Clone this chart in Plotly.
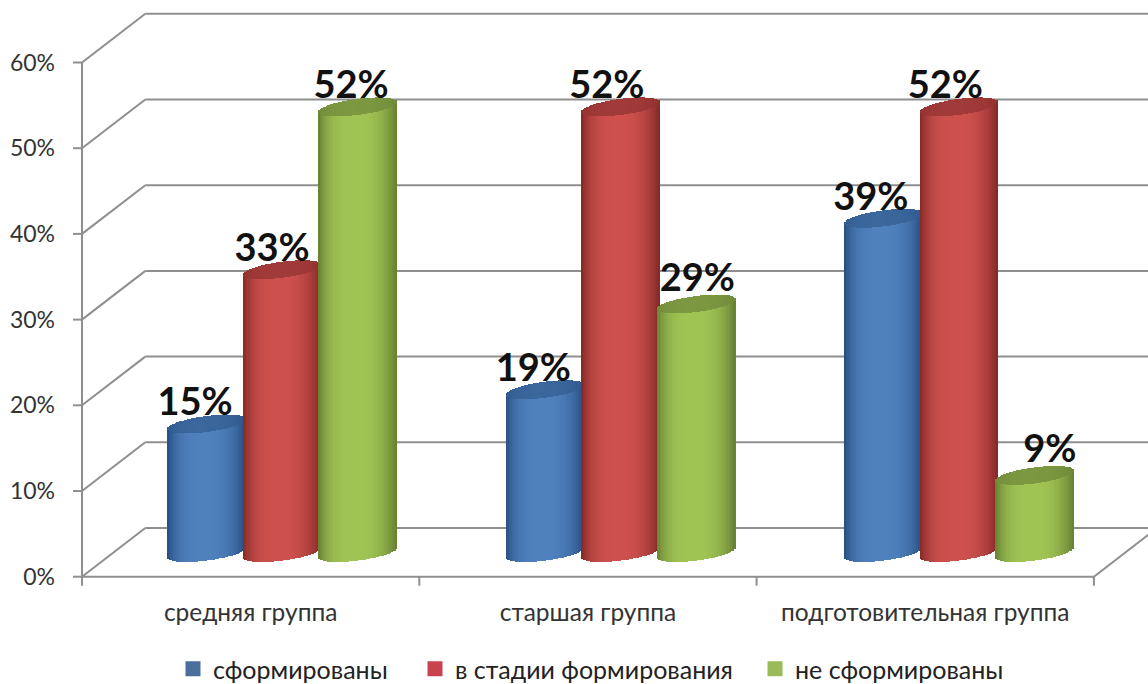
import numpy as np
import plotly.graph_objects as go

categories = ["средняя группа", "старшая группа", "подготовительная группа"]
series_names = ["сформированы", "в стадии формирования", "не сформированы"]
formed = [15, 19, 39]
forming = [33, 52, 52]
not_formed = [52, 29, 9]
y_ticks = [0, 10, 20, 30, 40, 50, 60]

# styles
mid_colors = [(79, 129, 189), (205, 80, 77), (160, 196, 84)]
edge_colors = [(38, 78, 128), (130, 40, 38), (102, 128, 50)]
cap_colors = [(60, 104, 158), (163, 60, 58), (125, 153, 65)]
legend_colors = ["#4a6f9c", "#c9434f", "#9bbb59"]
legend_left = [173, 415, 755]
label_dx = [[-12, -12, -13], [-10.5, -14, -14], [-7, 1, 15]]
label_dy = [[18, 18, 18], [18, 18, 18], [18, 23, 23]]

PX_X = 337.3   # px per category
PX_Y = 8.57    # px per percent
DX = 63.3 / PX_X
DY = 48.7 / PX_Y
GROUP_OFF = 125 / PX_X
GROUP_PITCH = 338.4 / PX_X
SPACING = 75.5 / PX_X
HALF_W = 39 / PX_X
BASE = 2.82
SHEAR = 5 / PX_Y
EH = 8 / PX_Y
N = 52
X_RANGE = [-26 / PX_X, 1066 / PX_X]
Y_RANGE = [-13.3 / PX_Y, 576.7 / PX_Y]
GRID = "#8f8f8f"


def mix(a, b, f):
    return "rgb(%d,%d,%d)" % tuple(round(a[k] + (b[k] - a[k]) * f) for k in range(3))


ts = (np.arange(N) + 0.5) / N * 2 - 1
fig = go.Figure()

all_values = [formed, forming, not_formed]
for s, vals in enumerate(all_values):
    xs, bases, heights, cols = [], [], [], []
    cxs, cbases, cheights, ccols = [], [], [], []
    for g, v in enumerate(vals):
        center = g * GROUP_PITCH + GROUP_OFF + s * SPACING
        for t in ts:
            r = np.sqrt(1 - t * t)
            low = BASE + SHEAR * t - EH * r
            top_c = BASE + v + SHEAR * t
            xs.append(center + t * HALF_W)
            bases.append(low)
            heights.append(top_c - low)
            f = abs(t) ** 3.5 if t < 0 else abs(t) ** 2.5
            cols.append(mix(mid_colors[s], edge_colors[s], f))
            cxs.append(center + t * HALF_W)
            cbases.append(top_c - EH * r)
            cheights.append(2 * EH * r)
            ccols.append(mix(cap_colors[s], edge_colors[s], 0.5 * abs(t) ** 3 + 0.12 * (t + 1) / 2))
    w = HALF_W * 2 / N * 1.25
    fig.add_trace(go.Bar(x=xs, y=heights, base=bases, width=w, marker=dict(color=cols, line_width=0),
                         showlegend=False, hoverinfo="skip"))
    fig.add_trace(go.Bar(x=cxs, y=cheights, base=cbases, width=w, marker=dict(color=ccols, line_width=0),
                         showlegend=False, hoverinfo="skip"))

for s, vals in enumerate(all_values):
    fig.add_trace(go.Scatter(
        x=[g * GROUP_PITCH + GROUP_OFF + s * SPACING + label_dx[s][g] / PX_X for g in range(3)],
        y=[BASE + v + label_dy[s][g] / PX_Y for g, v in enumerate(vals)],
        text=[f"{v}%" for v in vals], mode="text", textposition="middle center",
        textfont=dict(family="Lato", size=38, color="#111111", weight="bold"),
        showlegend=False, hoverinfo="skip", cliponaxis=False))

legends = {}
for i, (name, c, left) in enumerate(zip(series_names, legend_colors, legend_left)):
    key = "legend" if i == 0 else f"legend{i + 1}"
    fig.add_trace(go.Scatter(x=[None], y=[None], mode="markers", name=name, legend=key,
                             showlegend=True,
                             marker=dict(symbol="square", size=15, color=c)))
    legends[key] = dict(orientation="h", x=left / 1148, xanchor="left", xref="container",
                        y=1 - 669 / 684, yanchor="middle", yref="container",
                        bgcolor="rgba(0,0,0,0)",
                        font=dict(family="Lato", size=25, color="#222222"))

shapes = []
line = dict(color=GRID, width=2)
def seg(x0, y0, x1, y1):
    shapes.append(dict(type="line", xref="x", yref="y", x0=x0, y0=y0, x1=x1, y1=y1,
                       line=line, layer="below"))

for v in y_ticks:
    seg(0, v, DX, v + DY)
    seg(DX, v + DY, X_RANGE[1], v + DY)
    seg(-9 / PX_X, v, 0, v)
seg(0, 0, 0, 60)
seg(0, 0, 3, 0)
for k in range(4):
    seg(k, 0, k, -9 / PX_Y)
seg(3, 0, 3 + DX, DY)

fig.update_layout(
    width=1148, height=684, autosize=False,
    margin=dict(l=56, r=0, t=0, b=94, autoexpand=False),
    paper_bgcolor="white", plot_bgcolor="white",
    barmode="overlay", bargap=0,
    shapes=shapes,
    font=dict(family="Lato", color="#333333"),
    xaxis=dict(range=X_RANGE, tickvals=[0.5, 1.5, 2.5], ticktext=categories,
               showgrid=False, zeroline=False, showline=False, ticks="", ticklabelstandoff=5,
               tickfont=dict(size=24.5, color="#333333")),
    yaxis=dict(range=Y_RANGE, tickvals=y_ticks, ticktext=[f"{v}%" for v in y_ticks],
               showgrid=False, zeroline=False, showline=False, ticks="",
               tickfont=dict(size=23, color="#333333")),
    **legends,
)
fig.write_html("out.html", config={"displayModeBar": False},
               post_script="document.body.style.margin='0';document.documentElement.style.overflow='hidden';")
